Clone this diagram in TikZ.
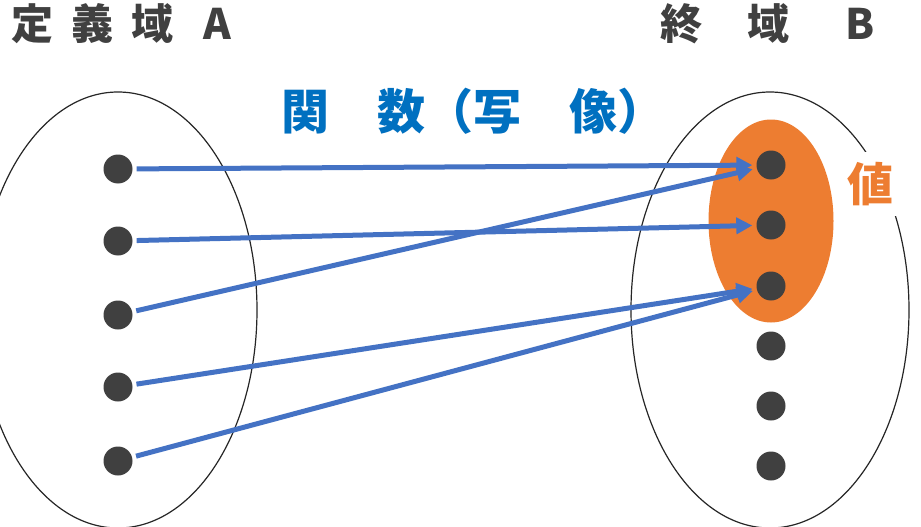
\documentclass[tikz,border=0pt]{standalone}
\usepackage{fontspec}
\newfontfamily\jp{Noto Sans CJK JP}
\usetikzlibrary{shapes.geometric,arrows.meta}
\definecolor{dk}{HTML}{404040}
\definecolor{arrblue}{HTML}{4472C4}
\definecolor{ttlblue}{HTML}{0070C0}
\definecolor{orng}{HTML}{ED7D31}
\begin{document}
\begin{tikzpicture}[x=1pt,y=-1pt,
  dot/.style={circle,fill=dk,minimum size=29pt,inner sep=0pt},
  setel/.style={ellipse,draw=black!85,line width=1.2pt,minimum width=278pt,minimum height=436pt,inner sep=0pt},
  arr/.style={draw=arrblue,line width=5pt,-{Triangle[length=16pt,width=16pt]},shorten <=4pt,shorten >=4pt},
  ttl/.style={font=\jp\bfseries\fontsize{42}{42}\selectfont,text=dk,inner sep=0pt,anchor=west}]
\useasboundingbox (0,0) rectangle (921,527);
\clip (0,0) rectangle (921,527);
\fill[white] (0,0) rectangle (921,527);
% sets
\node[setel] (A) at (118,310) {};
\node[setel] (B) at (770,310) {};
\node[ellipse,fill=orng,minimum width=125pt,minimum height=203pt,inner sep=0pt] (V) at (771,221) {};
% titles
\node[ttl] (tA) at (11,23.5) {定\hspace{18pt}義\hspace{18pt}域\hspace{30pt}A};
\node[ttl] (tB) at (660,24) {終\hspace{45pt}域\hspace{56pt}B};
\node[font=\jp\bfseries\fontsize{48}{48}\selectfont,text=ttlblue,inner sep=0pt,anchor=west] (f) at (281,111) {関　数（写　像）};
% dots
\foreach \i/\y in {1/169,2/241,3/315,4/387,5/461}
  \node[dot] (a\i) at (118,\y) {};
\foreach \i/\y in {1/165,2/225,3/286,4/346,5/406,6/466}
  \node[dot] (b\i) at (771,\y) {};
% arrows
\draw[arr] (a1) -- (b1);
\draw[arr] (a2) -- (b2);
\draw[arr] (a3) -- (b1);
\draw[arr] (a4) -- (b3);
\draw[arr] (a5) -- (b3);
% value label
\node[font=\jp\bfseries\fontsize{46}{46}\selectfont,text=orng,fill=white,inner xsep=6pt,inner ysep=10pt] (val) at (870,184) {値};
\end{tikzpicture}
\end{document}
